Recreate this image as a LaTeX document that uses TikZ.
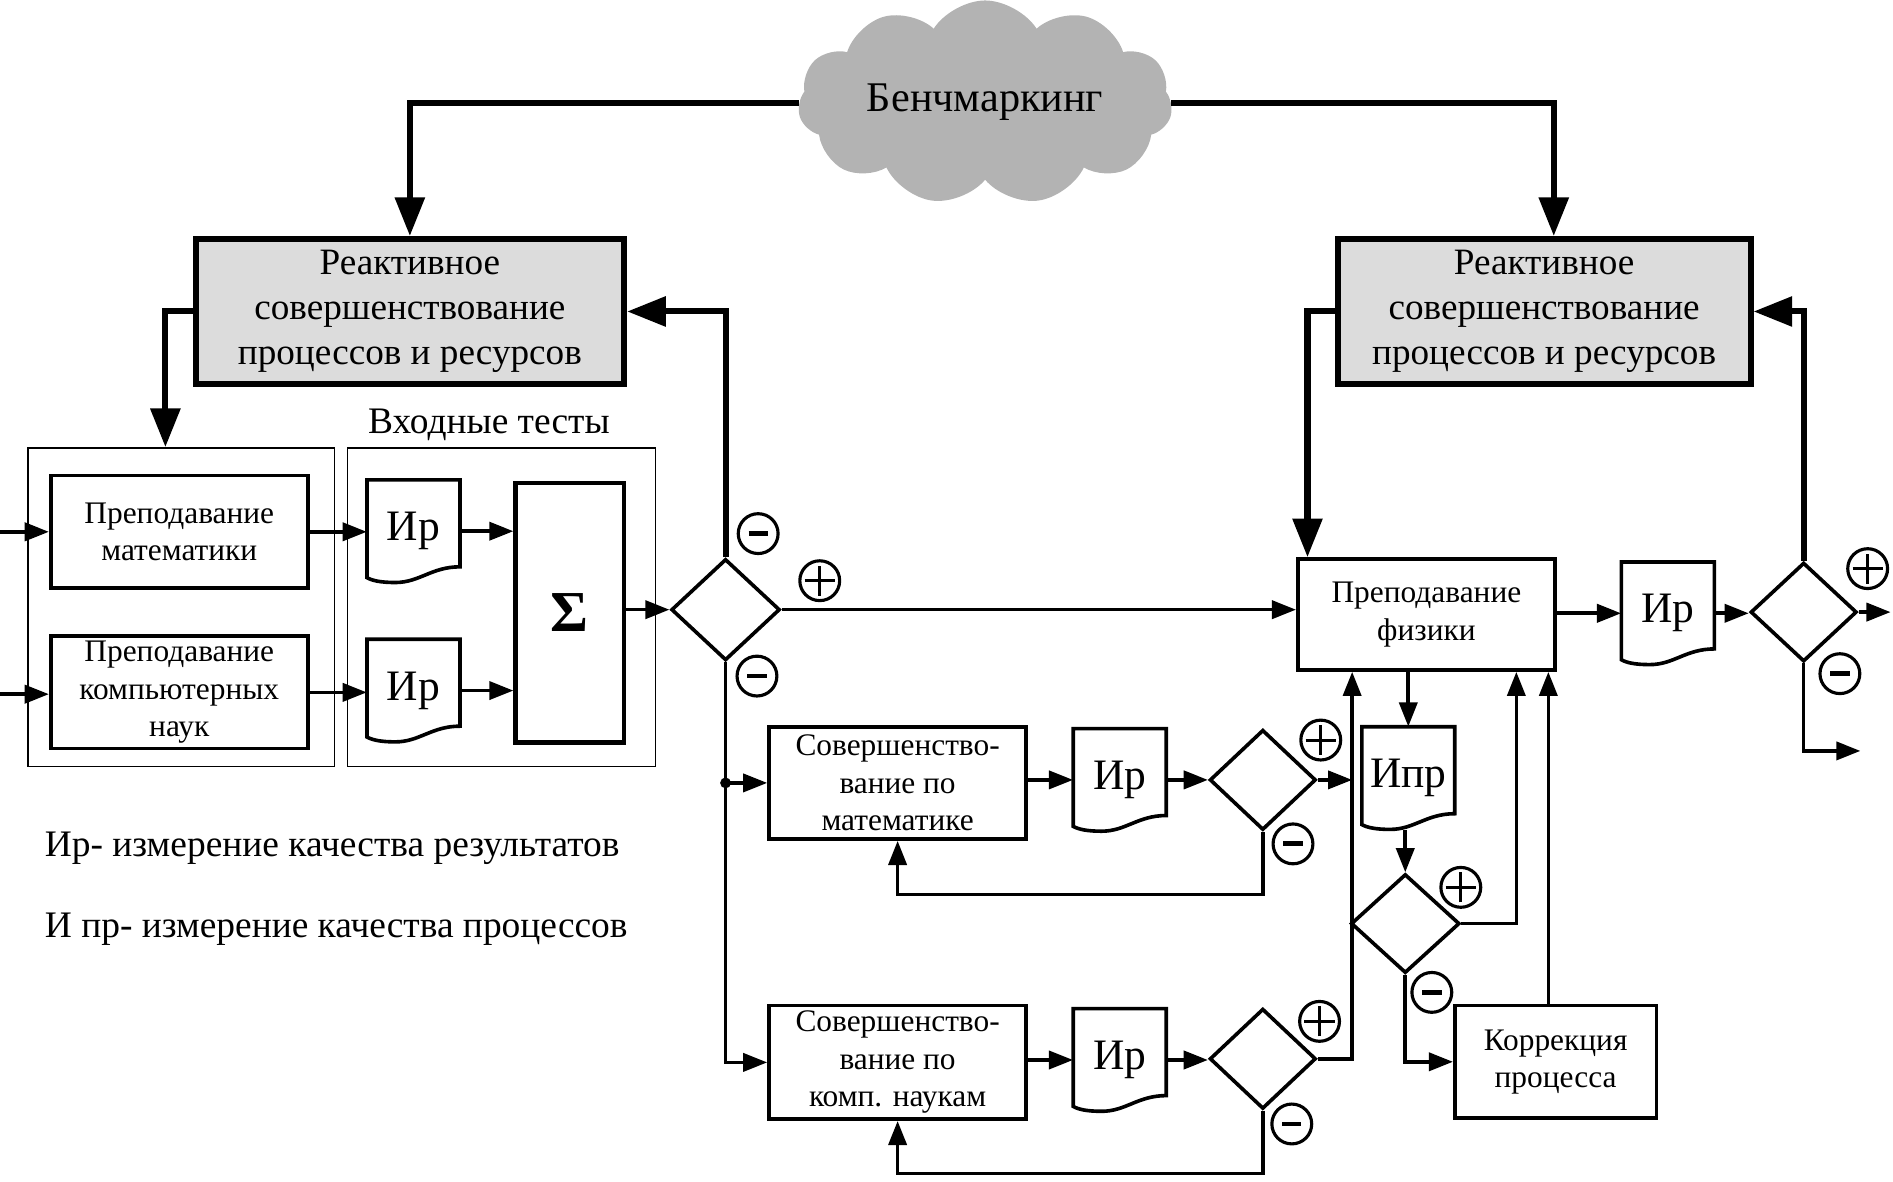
\documentclass[tikz,border=0pt]{standalone}
\usepackage{fontspec}
\setmainfont{Liberation Serif}
\usetikzlibrary{arrows.meta,shapes.geometric,shapes.symbols,calc}
\definecolor{boxgray}{HTML}{DCDCDC}
\definecolor{cloudgray}{HTML}{B3B3B3}

% document symbol: a named node plus its outline with a wavy lower edge
\newcommand\docshape[4]{%
  \node[doctext] (#1) at (#2,#3) {#4};
  \draw[docline,shift={(#2,#3)}] (-38.5,-42.5) -- (38.5,-42.5) -- (38.5,29.5)
    .. controls (15,29.5) and (5,42.5) .. (-15,42.5)
    .. controls (-27,42.5) and (-34,41) .. (-38.5,38.5) -- cycle;}

\begin{document}
\begin{tikzpicture}[x=1pt,y=-1pt,
  arr/.style={line width=3pt,-{Triangle[length=20pt,width=15pt]}},
  tarr/.style={line width=5pt,-{Triangle[length=32pt,width=24pt]}},
  box/.style={draw,line width=3pt,rectangle,inner sep=0pt,align=center,
    font=\fontsize{26}{31}\selectfont},
  graybox/.style={draw,line width=5pt,fill=boxgray,inner sep=0pt,align=center,
    font=\fontsize{30.8}{37}\selectfont},
  thinframe/.style={draw,line width=1.3pt,inner sep=0pt},
  decision/.style={diamond,draw,line width=3pt,inner sep=0pt},
  doctext/.style={minimum width=77pt,minimum height=85pt,inner sep=0pt,
    font=\fontsize{36}{36}\selectfont},
  docline/.style={line width=3pt,line join=miter},
  sgn/.style={circle,draw,line width=2.6pt,minimum size=33pt,inner sep=0pt},
  psign/.style={sgn,path picture={
    \draw[line width=2.4pt]
      ([xshift=-12.5pt]path picture bounding box.center) -- ([xshift=12.5pt]path picture bounding box.center)
      ([yshift=-12.5pt]path picture bounding box.center) -- ([yshift=12.5pt]path picture bounding box.center);}},
  msign/.style={sgn,path picture={
    \draw[line width=4pt]
      ([xshift=-8pt]path picture bounding box.center) -- ([xshift=8pt]path picture bounding box.center);}},
  legend/.style={anchor=west,inner sep=0pt,font=\fontsize{31}{31}\selectfont}]
\useasboundingbox (0,0) rectangle (1568,979);

% benchmarking cloud
\node[cloud,cloud puffs=11,cloud puff arc=115,aspect=2.1,fill=cloudgray,
  minimum width=310pt,minimum height=150pt,inner sep=0pt,
  font=\fontsize{35}{35}\selectfont] (bench) at (816,85) {Бенчмаркинг};

% reactive improvement boxes
\node[graybox,minimum width=355pt,minimum height=120pt] (gl) at (339.5,258)
  {Реактивное\\совершенствование\\процессов и ресурсов};
\node[graybox,minimum width=342pt,minimum height=120pt] (gr) at (1279,258)
  {Реактивное\\совершенствование\\процессов и ресурсов};

% input block
\node[thinframe,minimum width=254pt,minimum height=264pt] (fl) at (150,503) {};
\node[thinframe,minimum width=255pt,minimum height=264pt] (fr) at (415.5,503) {};
\node[font=\fontsize{31}{31}\selectfont] (intests) at (405,352) {Входные тесты};
\node[box,minimum width=213pt,minimum height=93pt] (pm) at (148.5,440.5)
  {Преподавание\\математики};
\node[box,minimum width=213pt,minimum height=93pt] (pk) at (148.5,573.5)
  {\raisebox{-4pt}{\parbox{213pt}{\centering Преподавание\\компьютерных\\наук}}};
\docshape{d1}{342.5}{440}{Ир}
\docshape{d2}{342.5}{572}{Ир}
\node[box,line width=3.5pt,minimum width=90pt,minimum height=215pt,
  font=\fontsize{48}{48}\selectfont\bfseries] (sigma) at (472,507.5) {Σ};
\node[decision,minimum width=90pt,minimum height=84pt] (q1) at (601,505) {};

% improvement loops
\node[box,minimum width=213pt,minimum height=93pt] (sm) at (743.5,648.5)
  {\raisebox{-4pt}{\parbox{213pt}{\centering Совершенство-\\вание по\\математике}}};
\docshape{d3}{927.5}{646}{Ир}
\node[decision,minimum width=88pt,minimum height=83pt] (q2) at (1046,646) {};
\node[box,minimum width=213pt,minimum height=94pt] (sk) at (743.5,880)
  {\raisebox{-3pt}{\parbox{213pt}{\centering Совершенство-\\вание по\\комп. наукам}}};
\docshape{d4}{927.5}{878}{Ир}
\node[decision,minimum width=88pt,minimum height=83pt] (q3) at (1046,877) {};

% physics block
\node[box,minimum width=213pt,minimum height=92pt] (phys) at (1181.5,509)
  {Преподавание\\физики};
\docshape{d5}{1381.5}{508}{Ир}
\node[decision,minimum width=88pt,minimum height=82pt] (q4) at (1494,507) {};
\docshape{d6}{1166.5}{644.5}{Ипр}
\node[decision,minimum width=90pt,minimum height=82pt] (q5) at (1164,765) {};
\node[box,minimum width=167pt,minimum height=93pt] (kor) at (1288.5,879.5)
  {Коррекция\\процесса};

% legend
\node[legend] (lg1) at (37,703) {Ир- измерение качества результатов};
\node[legend] (lg2) at (37,770) {И пр- измерение качества процессов};

% signs at the decisions
\node[msign] (s1) at (628,442) {};
\node[psign] (s2) at (679,481) {};
\node[msign] (s3) at (627,560) {};
\node[psign] (s4) at (1094,613) {};
\node[msign] (s5) at (1071,699) {};
\node[psign] (s6) at (1093,846) {};
\node[msign] (s7) at (1070,931) {};
\node[psign] (s8) at (1547,471) {};
\node[msign] (s9) at (1524,558) {};
\node[psign] (s10) at (1210,735) {};
\node[msign] (s11) at (1186,822) {};

% free ends
\coordinate (inm) at (0,440.5);
\coordinate (ink) at (0,575);
\coordinate (j1) at (1120,877);
\coordinate (out1) at (1566,507);
\coordinate (out2) at (1541,622);

% top-level connectors
\draw[tarr] (bench.west) -| (gl.north);
\draw[tarr] (bench.east) -| ([xshift=8pt]gr.north);
\draw[tarr] (gl.west) -| ([xshift=-13pt]fl.north);
\draw[tarr] (gr.west) -| ([xshift=-98.5pt]phys.north);
\draw[tarr] (q1.north) |- (gl.east);
\draw[tarr] (q4.north) |- (gr.east);

% input flow
\draw[arr] (inm) -- (pm.west);
\draw[arr] (ink) -- (ink -| pk.west);
\draw[arr] (pm.east) -- (pm.east -| d1.west);
\draw[arr] (pk.east) -- (pk.east -| d2.west);
\draw[arr] (d1.east) -- (d1.east -| sigma.west);
\draw[arr] (d2.east) -- (d2.east -| sigma.west);
\draw[arr] (sigma.east |- q1.west) -- (q1.west);
\draw[arr] (q1.east) -- (q1.east -| phys.west);
\draw[arr] (q1.south) |- (sk.west);
\coordinate (br) at (q1.south |- sm.west);
\fill (br) circle (4.5);
\draw[arr] (br) -- (sm.west);

% improvement loops
\draw[arr] (sm.east |- d3.west) -- (d3.west);
\draw[arr] (d3.east) -- (q2.west);
\draw[arr] (sk.east |- d4.west) -- (d4.west);
\draw[arr] (d4.east) -- (d4.east -| q3.west);
\draw[arr] (q3.east) -- (j1) -- (j1 |- phys.south);
\draw[arr] (q2.east) -- (q2.east -| j1);
\draw[arr] (q2.south) -- ++(0,52) -| (sm.south);
\draw[arr] (q3.south) -- ++(0,52) -| (sk.south);

% physics block
\draw[arr] (phys.east |- d5.west) -- (d5.west);
\draw[arr] (d5.east) -- (d5.east -| q4.west);
\draw[arr] (q4.east) -- (out1);
\draw[arr] (q4.south) |- (out2);
\draw[arr] (d6.north |- phys.south) -- (d6.north);
\draw[arr] (q5.north |- d6.south) -- (q5.north);
\draw[arr] (q5.east) -| ([xshift=74.5pt]phys.south);
\draw[arr] (q5.south) |- (kor.west);
\draw[arr] ([xshift=-6pt]kor.north) -- ([xshift=-6pt]kor.north |- phys.south);
\end{tikzpicture}
\end{document}
